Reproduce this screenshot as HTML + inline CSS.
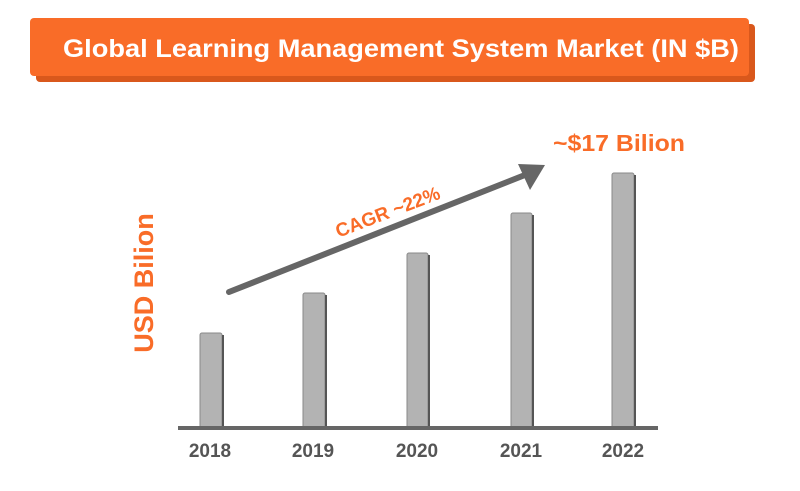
<!DOCTYPE html>
<html><head><style>
body{margin:0;width:800px;height:486px;background:#fff;overflow:hidden;font-family:"Liberation Sans",sans-serif}
</style></head><body>
<svg width="800" height="486" viewBox="0 0 800 486" xmlns="http://www.w3.org/2000/svg">
<rect x="36" y="24" width="719" height="58" rx="4" fill="#d9581c"/>
<rect x="30" y="18" width="719" height="58" rx="4" fill="#f96c28"/>
<text x="401" y="57" text-anchor="middle" fill="#fff" font-weight="bold" font-size="25" textLength="676" lengthAdjust="spacingAndGlyphs">Global Learning Management System Market (IN $B)</text>
<g fill="#b3b3b3" stroke="#8a8a8a" stroke-width="1">
<rect x="200" y="333" width="22" height="96" rx="2"/>
<rect x="303" y="293" width="22" height="136" rx="2"/>
<rect x="407" y="253" width="21" height="176" rx="2"/>
<rect x="511" y="213" width="21" height="216" rx="2"/>
<rect x="612" y="173" width="22" height="256" rx="2"/>
</g>
<g fill="#555"><rect x="222" y="335" width="2" height="94"/><rect x="325" y="295" width="2" height="134"/><rect x="428" y="255" width="2" height="174"/><rect x="532" y="215" width="2" height="214"/><rect x="634" y="175" width="2" height="254"/></g>
<rect x="178" y="426" width="480" height="4" fill="#666"/>
<g fill="#555" font-weight="bold" font-size="19" text-anchor="middle">
<text x="210" y="457">2018</text><text x="313" y="457">2019</text><text x="417" y="457">2020</text><text x="521" y="457">2021</text><text x="623" y="457">2022</text>
</g>
<line x1="229" y1="292" x2="530" y2="173" stroke="#666" stroke-width="6" stroke-linecap="round"/>
<polygon points="545,165 518,164 530,190" fill="#666"/>
<text x="0" y="0" transform="translate(390,218) rotate(-21)" text-anchor="middle" fill="#f96c28" font-weight="bold" font-size="19">CAGR ~22%</text>
<text x="553" y="151" fill="#f96c28" font-weight="bold" font-size="23" textLength="132" lengthAdjust="spacingAndGlyphs">~$17 Bilion</text>
<text x="0" y="0" transform="translate(153,283) rotate(-90)" text-anchor="middle" fill="#f96c28" font-weight="bold" font-size="27">USD Bilion</text>
</svg>
</body></html>
